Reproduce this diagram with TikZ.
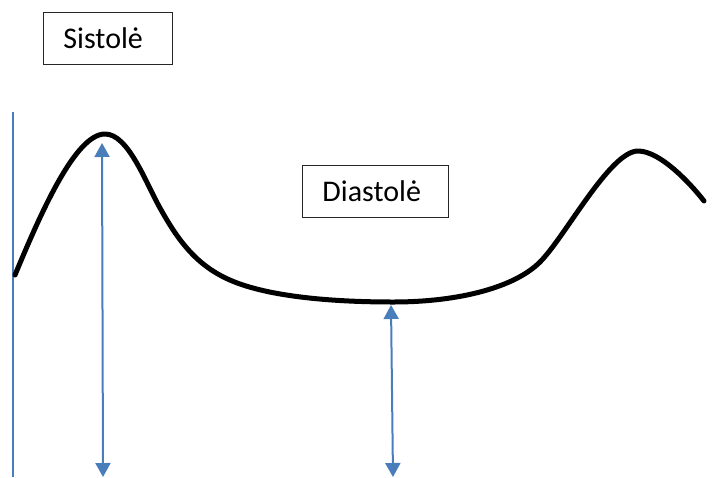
\documentclass[tikz,border=0pt]{standalone}
\usepackage{fontspec}
\setmainfont{Carlito}
\usetikzlibrary{arrows.meta}
\definecolor{arrowblue}{HTML}{4A7EBB}
\tikzset{
  label box/.style={draw=black!85, line width=0.9pt, inner xsep=20pt, inner ysep=0pt,
    align=left, minimum height=52pt, font=\fontsize{30}{34}\selectfont, anchor=north west},
  blue arrow/.style={draw=arrowblue, line width=2pt, {Triangle[width=15pt,length=14pt]}-{Triangle[width=15pt,length=14pt]}},
  wave/.style={line width=5pt, line cap=round, line join=round}
}
\begin{document}
\begin{tikzpicture}[x=1pt,y=-1pt]
\useasboundingbox (0,0) rectangle (722,477);
\node[label box, text width=89pt] (sis) at (43,12) {Sistolė};
\node[label box, text width=106pt] (dia) at (302,165) {Diastolė};
\coordinate (axtop) at (13,112);
\coordinate (axbot) at (13,477);
\draw[arrowblue, line width=2pt] (axtop) -- (axbot);
\coordinate (a1t) at (102,143);
\coordinate (a1b) at (103,477);
\coordinate (a2t) at (391,305);
\coordinate (a2b) at (393,477);
\draw[blue arrow] (a1b) -- (a1t);
\draw[blue arrow] (a2b) -- (a2t);
\draw[wave] (15,275)
  .. controls (40,215) and (75,134) .. (105,134)
  .. controls (128,134) and (145,181) .. (160,208)
  .. controls (180,244) and (200,270) .. (240,284)
  .. controls (280,298) and (340,302) .. (393,302)
  .. controls (460,302) and (515,287) .. (540,262)
  .. controls (565,237) and (610,151) .. (638,151)
  .. controls (660,151) and (690,183) .. (704,201);
\end{tikzpicture}
\end{document}
